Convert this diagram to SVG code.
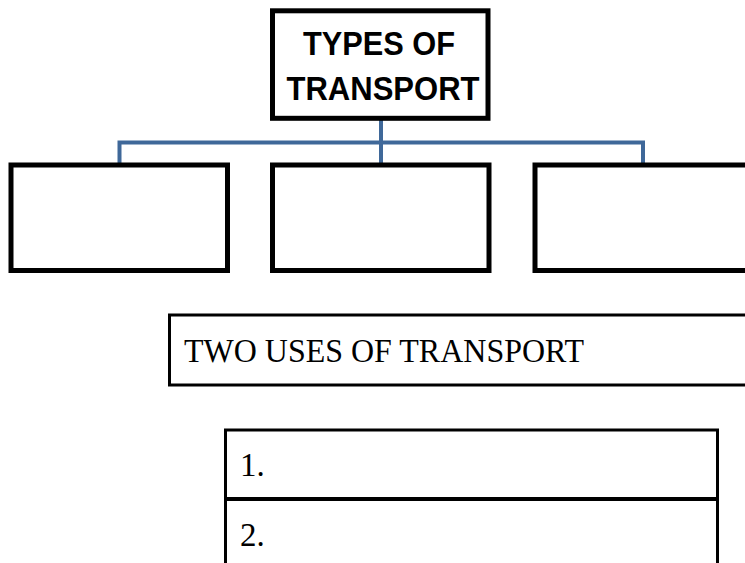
<svg xmlns="http://www.w3.org/2000/svg" width="745" height="563" viewBox="0 0 745 563">
<style>
.box{fill:#fff;stroke:#000;stroke-width:5}
.thin{fill:#fff;stroke:#000;stroke-width:3}
.conn{fill:none;stroke:#3f6899;stroke-width:4}
.head{font-family:"Liberation Sans",Arial,sans-serif;font-weight:bold;font-size:34px;fill:#000}
.body{font-family:"Liberation Serif","Times New Roman",serif;font-size:33px;fill:#000}
</style>
<rect width="745" height="563" fill="#fff"/>
<g id="connectors">
<path class="conn" d="M381 120 V142.5 M119.5 164 V142.5 H643 V164 M381 142.5 V164"/>
</g>
<g id="types-of-transport">
<rect class="box" x="272.5" y="10.8" width="215.5" height="107.5"/>
<text class="head" x="379" y="55" text-anchor="middle" textLength="152" lengthAdjust="spacingAndGlyphs">TYPES OF</text>
<text class="head" x="383" y="99.5" text-anchor="middle" textLength="193" lengthAdjust="spacingAndGlyphs">TRANSPORT</text>
</g>
<g id="type-1"><rect class="box" x="11" y="165" width="216.5" height="105.5"/></g>
<g id="type-2"><rect class="box" x="272.5" y="165" width="216.5" height="105.5"/></g>
<g id="type-3"><rect class="box" x="535" y="165" width="230" height="105.5"/></g>
<g id="two-uses">
<rect class="thin" x="169.5" y="315" width="600" height="70"/>
<text class="body" x="184" y="362" textLength="400" lengthAdjust="spacingAndGlyphs">TWO USES OF TRANSPORT</text>
</g>
<g id="use-1">
<rect class="thin" x="225.5" y="430" width="492" height="69"/>
<text class="body" x="240" y="475.5">1.</text>
</g>
<g id="use-2">
<rect class="thin" x="225.5" y="499" width="492" height="75"/>
<line x1="225.5" y1="499" x2="717.5" y2="499" stroke="#000" stroke-width="4"/>
<text class="body" x="240" y="545.5">2.</text>
</g>
</svg>
